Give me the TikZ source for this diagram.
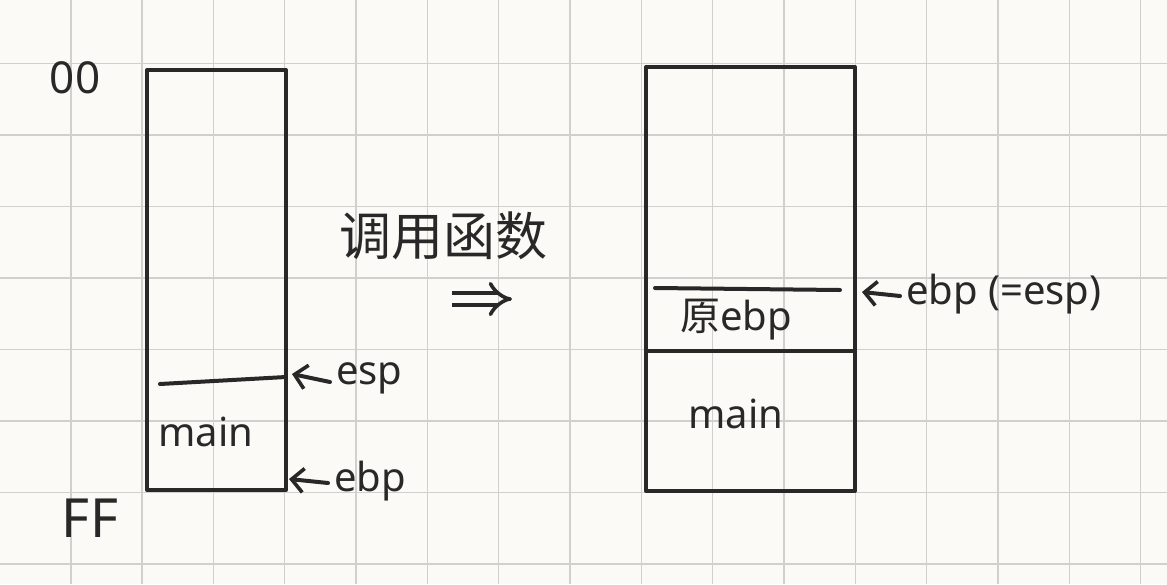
\documentclass[tikz,border=0pt]{standalone}
\usepackage{fontspec}
\setmainfont{Noto Sans}
\newfontfamily\cjk{Noto Sans CJK SC}
\usetikzlibrary{arrows.meta}
\definecolor{paper}{RGB}{252,250,246}
\definecolor{gridc}{RGB}{210,208,204}
\definecolor{inkc}{RGB}{40,40,40}
\tikzset{
  inkline/.style={draw=inkc,line width=4pt,line cap=round,line join=round},
  lab/.style={text=inkc,inner sep=0pt,font=\fontsize{40}{42}\selectfont},
  arr/.style={inkline,-{Straight Barb[length=12pt,width=24pt,line width=3.6pt]}},
}
\begin{document}
\begin{tikzpicture}[x=1pt,y=-1pt]
\useasboundingbox (0,0) rectangle (1167,584);
\fill[paper] (0,0) rectangle (1167,584);
% grid
\foreach \k in {0,...,15} \draw[gridc,line width=1.6pt] ({70.7+71.33*\k},0) -- ({70.7+71.33*\k},584);
\foreach \k in {0,...,7} \draw[gridc,line width=1.6pt] (0,{63.5+71.5*\k}) -- (1167,{63.5+71.5*\k});

% left stack
\coordinate (LTL) at (147,70);
\coordinate (LBR) at (286,490);
\draw[inkline] (LTL) rectangle (LBR);
\coordinate (LespA) at (160,384);
\coordinate (LespB) at (286,377);
\draw[inkline] (LespA) -- (LespB);
\node[lab] (lmain) at (206,432) {main};
\node[lab,font=\fontsize{44}{46}\selectfont] (l00) at (75,78) {00};
\node[lab,font=\fontsize{54}{56}\selectfont] (lFF) at (90,518) {FF};

\coordinate (espTip) at (292,374);
\node[lab,anchor=west] (esp) at (336,378) {esp};
\draw[arr] ([xshift=-6pt,yshift=-4pt]esp.west) -- (espTip);
\coordinate (ebpTip) at (289,479);
\node[lab,anchor=west] (ebp) at (334,481) {ebp};
\draw[arr] ([xshift=-6pt,yshift=-2pt]ebp.west) -- (ebpTip);

% middle
\node[lab,font=\cjk\fontsize{52}{54}\selectfont] (call) at (443,236) {调用函数};
\coordinate (impA) at (452,299);
\coordinate (impB) at (512,299);
\draw[draw=inkc,line width=3.6pt,double=paper,double distance=8pt,-{Implies}] (impA) -- (impB);

% right stack
\coordinate (RTL) at (646,67);
\coordinate (RBR) at (855,491);
\draw[inkline] (RTL) rectangle (RBR);
\coordinate (RebpA) at (655,288);
\coordinate (RebpB) at (840,290);
\draw[inkline] (RebpA) -- (RebpB);
\coordinate (RmidA) at (646,351);
\coordinate (RmidB) at (855,351);
\draw[inkline] (RmidA) -- (RmidB);
\node[lab] (yebp) at (736,320) {{\cjk 原}ebp};
\node[lab] (rmain) at (736,414) {main};
\coordinate (rTip) at (862,292);
\node[lab,anchor=west] (rebp) at (906,294) {ebp (=esp)};
\draw[arr] ([xshift=-6pt,yshift=-2pt]rebp.west) -- (rTip);
\end{tikzpicture}
\end{document}
